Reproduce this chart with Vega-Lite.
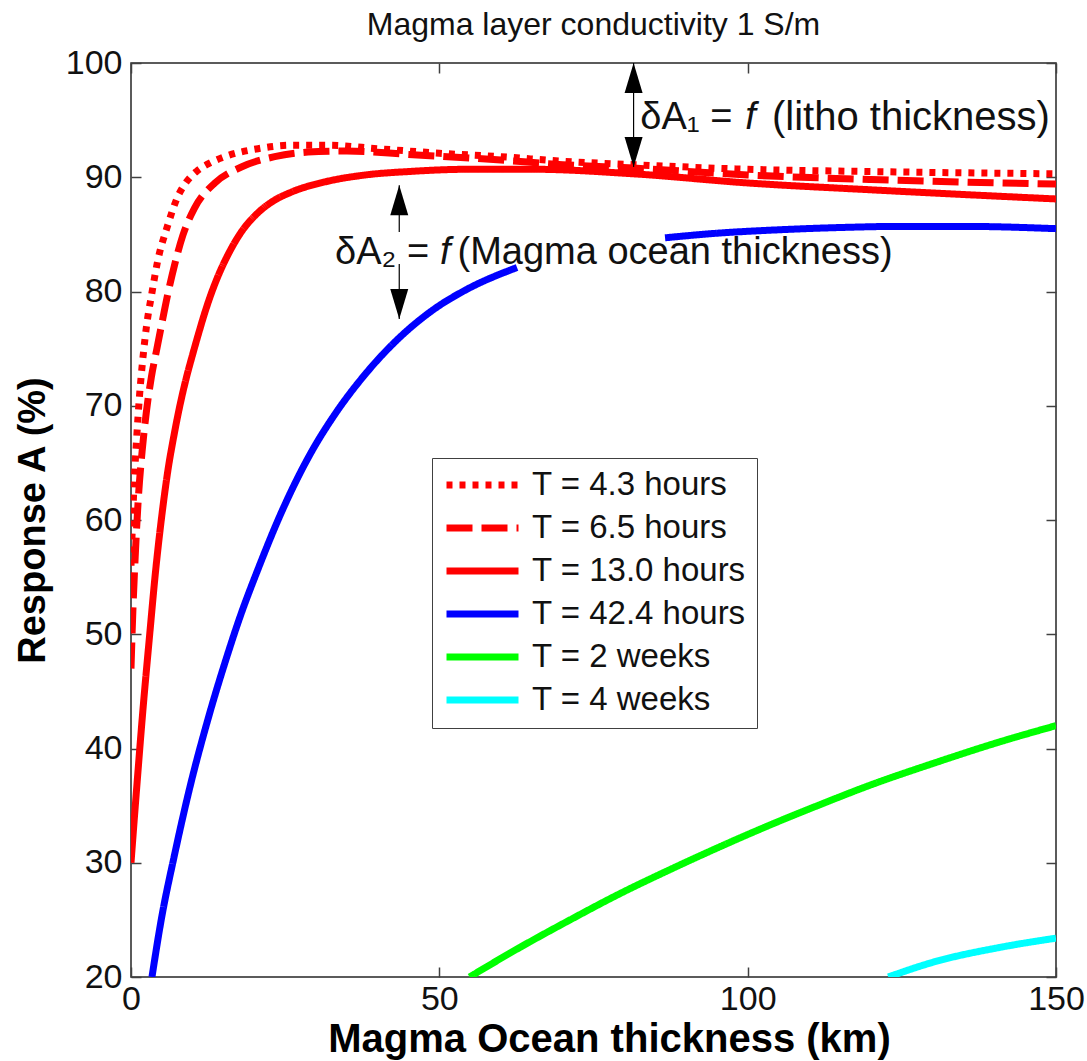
{
  "$schema": "https://vega.github.io/schema/vega-lite/v6.json",
  "width": 925,
  "height": 914,
  "autosize": {"type": "none"},
  "padding": {"left": 131, "top": 63, "right": 31, "bottom": 84},
  "background": "white",
  "title": {"text": "Magma layer conductivity 1 S/m", "fontSize": 32, "fontWeight": "normal", "color": "#111", "anchor": "middle", "frame": "group", "offset": 4},
  "config": {
    "font": "Liberation Sans",
    "view": {"stroke": "#262626", "strokeWidth": 1.5},
    "axis": {"grid": false, "domain": false, "tickColor": "#404040", "tickSize": -10, "tickWidth": 1.5, "labelFontSize": 34, "labelColor": "#111", "titleFontSize": 38, "titleFontWeight": "bold", "titleColor": "#000", "labelFlush": false, "labelOverlap": false},
    "legend": {"orient": "none", "legendX": 301, "legendY": 395, "strokeColor": "#404040", "fillColor": "white", "padding": 11, "labelFontSize": 33, "labelColor": "#111", "symbolType": "stroke", "symbolSize": 5184, "symbolStrokeWidth": 7, "clipHeight": 32, "rowPadding": 10, "labelOffset": 10, "labelLimit": 400}
  },
  "resolve": {"axis": {"x": "independent", "y": "independent"}},
  "layer": [
    {
      "data": {"values": [
        {"series": "T = 4.3 hours", "seg": 1, "x": 0, "y": 56},
        {"series": "T = 4.3 hours", "seg": 1, "x": 0.4, "y": 62},
        {"series": "T = 4.3 hours", "seg": 1, "x": 0.9, "y": 67},
        {"series": "T = 4.3 hours", "seg": 1, "x": 1.4, "y": 71},
        {"series": "T = 4.3 hours", "seg": 1, "x": 1.9, "y": 74},
        {"series": "T = 4.3 hours", "seg": 1, "x": 2.5, "y": 76.9},
        {"series": "T = 4.3 hours", "seg": 1, "x": 3.4, "y": 79.9},
        {"series": "T = 4.3 hours", "seg": 1, "x": 4.3, "y": 82.6},
        {"series": "T = 4.3 hours", "seg": 1, "x": 5.9, "y": 85.7},
        {"series": "T = 4.3 hours", "seg": 1, "x": 7.5, "y": 88.2},
        {"series": "T = 4.3 hours", "seg": 1, "x": 9, "y": 89.6},
        {"series": "T = 4.3 hours", "seg": 1, "x": 10.6, "y": 90.5},
        {"series": "T = 4.3 hours", "seg": 1, "x": 13, "y": 91.3},
        {"series": "T = 4.3 hours", "seg": 1, "x": 15.2, "y": 91.8},
        {"series": "T = 4.3 hours", "seg": 1, "x": 20.6, "y": 92.5},
        {"series": "T = 4.3 hours", "seg": 1, "x": 26, "y": 92.8},
        {"series": "T = 4.3 hours", "seg": 1, "x": 32, "y": 92.8},
        {"series": "T = 4.3 hours", "seg": 1, "x": 40, "y": 92.5},
        {"series": "T = 4.3 hours", "seg": 1, "x": 50, "y": 92.1},
        {"series": "T = 4.3 hours", "seg": 1, "x": 60, "y": 91.8},
        {"series": "T = 4.3 hours", "seg": 1, "x": 70, "y": 91.4},
        {"series": "T = 4.3 hours", "seg": 1, "x": 81.5, "y": 91.1},
        {"series": "T = 4.3 hours", "seg": 1, "x": 100, "y": 90.7},
        {"series": "T = 4.3 hours", "seg": 1, "x": 120, "y": 90.5},
        {"series": "T = 4.3 hours", "seg": 1, "x": 150, "y": 90.3},
        {"series": "T = 6.5 hours", "seg": 1, "x": 0, "y": 47},
        {"series": "T = 6.5 hours", "seg": 1, "x": 0.3, "y": 52},
        {"series": "T = 6.5 hours", "seg": 1, "x": 0.7, "y": 57},
        {"series": "T = 6.5 hours", "seg": 1, "x": 1.2, "y": 62},
        {"series": "T = 6.5 hours", "seg": 1, "x": 1.8, "y": 66},
        {"series": "T = 6.5 hours", "seg": 1, "x": 2.5, "y": 69.5},
        {"series": "T = 6.5 hours", "seg": 1, "x": 3.3, "y": 72.5},
        {"series": "T = 6.5 hours", "seg": 1, "x": 4.2, "y": 75},
        {"series": "T = 6.5 hours", "seg": 1, "x": 5, "y": 77.2},
        {"series": "T = 6.5 hours", "seg": 1, "x": 5.9, "y": 79.6},
        {"series": "T = 6.5 hours", "seg": 1, "x": 7.1, "y": 82.4},
        {"series": "T = 6.5 hours", "seg": 1, "x": 8.4, "y": 84.9},
        {"series": "T = 6.5 hours", "seg": 1, "x": 10.3, "y": 87.3},
        {"series": "T = 6.5 hours", "seg": 1, "x": 13.6, "y": 89.5},
        {"series": "T = 6.5 hours", "seg": 1, "x": 17.9, "y": 90.9},
        {"series": "T = 6.5 hours", "seg": 1, "x": 23.3, "y": 91.8},
        {"series": "T = 6.5 hours", "seg": 1, "x": 28.7, "y": 92.2},
        {"series": "T = 6.5 hours", "seg": 1, "x": 35, "y": 92.3},
        {"series": "T = 6.5 hours", "seg": 1, "x": 45, "y": 92.0},
        {"series": "T = 6.5 hours", "seg": 1, "x": 60, "y": 91.5},
        {"series": "T = 6.5 hours", "seg": 1, "x": 70, "y": 91.1},
        {"series": "T = 6.5 hours", "seg": 1, "x": 81.5, "y": 90.8},
        {"series": "T = 6.5 hours", "seg": 1, "x": 100, "y": 90.2},
        {"series": "T = 6.5 hours", "seg": 1, "x": 120, "y": 89.8},
        {"series": "T = 6.5 hours", "seg": 1, "x": 150, "y": 89.4},
        {"series": "T = 13.0 hours", "seg": 1, "x": 0, "y": 30},
        {"series": "T = 13.0 hours", "seg": 1, "x": 0.5, "y": 33.6},
        {"series": "T = 13.0 hours", "seg": 1, "x": 1, "y": 37.1},
        {"series": "T = 13.0 hours", "seg": 1, "x": 2, "y": 43.8},
        {"series": "T = 13.0 hours", "seg": 1, "x": 3, "y": 49.8},
        {"series": "T = 13.0 hours", "seg": 1, "x": 4, "y": 55.6},
        {"series": "T = 13.0 hours", "seg": 1, "x": 5, "y": 60.4},
        {"series": "T = 13.0 hours", "seg": 1, "x": 6, "y": 64.4},
        {"series": "T = 13.0 hours", "seg": 1, "x": 7, "y": 67.5},
        {"series": "T = 13.0 hours", "seg": 1, "x": 8, "y": 70.2},
        {"series": "T = 13.0 hours", "seg": 1, "x": 9, "y": 72.5},
        {"series": "T = 13.0 hours", "seg": 1, "x": 10, "y": 74.5},
        {"series": "T = 13.0 hours", "seg": 1, "x": 11, "y": 76.4},
        {"series": "T = 13.0 hours", "seg": 1, "x": 12, "y": 78.2},
        {"series": "T = 13.0 hours", "seg": 1, "x": 13, "y": 79.8},
        {"series": "T = 13.0 hours", "seg": 1, "x": 14, "y": 81.2},
        {"series": "T = 13.0 hours", "seg": 1, "x": 16, "y": 83.5},
        {"series": "T = 13.0 hours", "seg": 1, "x": 18, "y": 85.3},
        {"series": "T = 13.0 hours", "seg": 1, "x": 20.6, "y": 86.9},
        {"series": "T = 13.0 hours", "seg": 1, "x": 23, "y": 87.9},
        {"series": "T = 13.0 hours", "seg": 1, "x": 26, "y": 88.7},
        {"series": "T = 13.0 hours", "seg": 1, "x": 31.5, "y": 89.6},
        {"series": "T = 13.0 hours", "seg": 1, "x": 38, "y": 90.2},
        {"series": "T = 13.0 hours", "seg": 1, "x": 45, "y": 90.5},
        {"series": "T = 13.0 hours", "seg": 1, "x": 55, "y": 90.7},
        {"series": "T = 13.0 hours", "seg": 1, "x": 65, "y": 90.7},
        {"series": "T = 13.0 hours", "seg": 1, "x": 81.5, "y": 90.3},
        {"series": "T = 13.0 hours", "seg": 1, "x": 100, "y": 89.5},
        {"series": "T = 13.0 hours", "seg": 1, "x": 120, "y": 88.9},
        {"series": "T = 13.0 hours", "seg": 1, "x": 150, "y": 88.1},
        {"series": "T = 42.4 hours", "seg": 1, "x": 3.4, "y": 20},
        {"series": "T = 42.4 hours", "seg": 1, "x": 4.9, "y": 25},
        {"series": "T = 42.4 hours", "seg": 1, "x": 7.1, "y": 30.8},
        {"series": "T = 42.4 hours", "seg": 1, "x": 9.5, "y": 36.5},
        {"series": "T = 42.4 hours", "seg": 1, "x": 12.5, "y": 42.6},
        {"series": "T = 42.4 hours", "seg": 1, "x": 15.7, "y": 48.3},
        {"series": "T = 42.4 hours", "seg": 1, "x": 17.6, "y": 51.4},
        {"series": "T = 42.4 hours", "seg": 1, "x": 20.6, "y": 55.7},
        {"series": "T = 42.4 hours", "seg": 1, "x": 24.5, "y": 60.8},
        {"series": "T = 42.4 hours", "seg": 1, "x": 29.3, "y": 66},
        {"series": "T = 42.4 hours", "seg": 1, "x": 33, "y": 69.2},
        {"series": "T = 42.4 hours", "seg": 1, "x": 38.2, "y": 72.9},
        {"series": "T = 42.4 hours", "seg": 1, "x": 43.6, "y": 76.0},
        {"series": "T = 42.4 hours", "seg": 1, "x": 49, "y": 78.4},
        {"series": "T = 42.4 hours", "seg": 1, "x": 54.5, "y": 80.2},
        {"series": "T = 42.4 hours", "seg": 1, "x": 62.6, "y": 82.1},
        {"series": "T = 42.4 hours", "seg": 2, "x": 86.6, "y": 84.7},
        {"series": "T = 42.4 hours", "seg": 2, "x": 95, "y": 85.1},
        {"series": "T = 42.4 hours", "seg": 2, "x": 105, "y": 85.4},
        {"series": "T = 42.4 hours", "seg": 2, "x": 115, "y": 85.6},
        {"series": "T = 42.4 hours", "seg": 2, "x": 125, "y": 85.7},
        {"series": "T = 42.4 hours", "seg": 2, "x": 135, "y": 85.7},
        {"series": "T = 42.4 hours", "seg": 2, "x": 150, "y": 85.5},
        {"series": "T = 2 weeks", "seg": 1, "x": 54.9, "y": 20},
        {"series": "T = 2 weeks", "seg": 1, "x": 63.1, "y": 22.6},
        {"series": "T = 2 weeks", "seg": 1, "x": 71.2, "y": 25.0},
        {"series": "T = 2 weeks", "seg": 1, "x": 79.3, "y": 27.3},
        {"series": "T = 2 weeks", "seg": 1, "x": 87.4, "y": 29.4},
        {"series": "T = 2 weeks", "seg": 1, "x": 95.5, "y": 31.4},
        {"series": "T = 2 weeks", "seg": 1, "x": 103.6, "y": 33.3},
        {"series": "T = 2 weeks", "seg": 1, "x": 111.8, "y": 35.1},
        {"series": "T = 2 weeks", "seg": 1, "x": 119.9, "y": 36.8},
        {"series": "T = 2 weeks", "seg": 1, "x": 130.1, "y": 38.7},
        {"series": "T = 2 weeks", "seg": 1, "x": 141, "y": 40.6},
        {"series": "T = 2 weeks", "seg": 1, "x": 150, "y": 42.0},
        {"series": "T = 4 weeks", "seg": 1, "x": 122.8, "y": 20},
        {"series": "T = 4 weeks", "seg": 1, "x": 130.1, "y": 21.3},
        {"series": "T = 4 weeks", "seg": 1, "x": 141, "y": 22.6},
        {"series": "T = 4 weeks", "seg": 1, "x": 150, "y": 23.4}
      ]},
      "mark": {"type": "line", "strokeWidth": 7, "interpolate": "monotone", "clip": true},
      "encoding": {
        "x": {"field": "x", "type": "quantitative", "scale": {"domain": [0, 150], "nice": false, "zero": false},
              "axis": {"orient": "bottom", "values": [0, 50, 100, 150], "title": "Magma Ocean thickness (km)", "titleFontSize": 40, "titleX": 478, "labelPadding": 15, "titlePadding": 3}},
        "y": {"field": "y", "type": "quantitative", "scale": {"domain": [20, 100], "nice": false, "zero": false},
              "axis": {"orient": "left", "values": [20, 30, 40, 50, 60, 70, 80, 90, 100], "title": "Response A (%)", "labelPadding": 19, "titlePadding": 13}},
        "color": {"field": "series", "type": "nominal",
                  "scale": {"domain": ["T = 4.3 hours", "T = 6.5 hours", "T = 13.0 hours", "T = 42.4 hours", "T = 2 weeks", "T = 4 weeks"],
                            "range": ["#ff0000", "#ff0000", "#ff0000", "#0000ff", "#00ff00", "#00ffff"]},
                  "legend": {"title": null}},
        "strokeDash": {"field": "series", "type": "nominal",
                  "scale": {"domain": ["T = 4.3 hours", "T = 6.5 hours", "T = 13.0 hours", "T = 42.4 hours", "T = 2 weeks", "T = 4 weeks"],
                            "range": [[6, 7], [26, 9], [1, 0], [1, 0], [1, 0], [1, 0]]},
                  "legend": {"title": null}},
        "detail": {"field": "seg", "type": "nominal"}
      }
    },
    {
      "data": {"values": [
        {"x": 81.5, "y": 100, "y2": 90.9},
        {"x": 43.5, "y": 89.3, "y2": 85.2},
        {"x": 43.5, "y": 82.4, "y2": 77.6}
      ]},
      "mark": {"type": "rule", "color": "black", "strokeWidth": 1.2},
      "encoding": {
        "x": {"field": "x", "type": "quantitative", "axis": {"orient": "top", "values": [0, 50, 100, 150], "labels": false, "title": null}},
        "y": {"field": "y", "type": "quantitative", "axis": {"orient": "right", "values": [20, 30, 40, 50, 60, 70, 80, 90, 100], "labels": false, "title": null}},
        "y2": {"field": "y2"}
      }
    },
    {
      "data": {"values": [
        {"x": 81.5, "y": 100, "dir": "up"},
        {"x": 81.5, "y": 90.9, "dir": "down"},
        {"x": 43.5, "y": 89.3, "dir": "up"},
        {"x": 43.5, "y": 77.6, "dir": "down"}
      ]},
      "mark": {"type": "point", "filled": true, "color": "black", "opacity": 1, "size": 3600, "strokeWidth": 0},
      "encoding": {
        "x": {"field": "x", "type": "quantitative", "axis": null},
        "y": {"field": "y", "type": "quantitative", "axis": null},
        "shape": {"field": "dir", "type": "nominal", "scale": {"domain": ["up", "down"], "range": ["M0,0L0.3,1L-0.3,1Z", "M0,0L0.3,-1L-0.3,-1Z"]}, "legend": null}
      }
    },
    {
      "data": {"values": [
        {"x": 82.6, "y": 95.2, "t": "δA₁ ="},
        {"x": 33.1, "y": 83.4, "t": "δA₂ ="}
      ]},
      "mark": {"type": "text", "align": "left", "baseline": "middle", "fontSize": 38, "color": "#111"},
      "encoding": {
        "x": {"field": "x", "type": "quantitative", "axis": null},
        "y": {"field": "y", "type": "quantitative", "axis": null},
        "text": {"field": "t"}
      }
    },
    {
      "data": {"values": [
        {"x": 99.6, "y": 95.2, "t": "f"},
        {"x": 50.1, "y": 83.4, "t": "f"}
      ]},
      "mark": {"type": "text", "align": "left", "baseline": "middle", "fontSize": 38, "fontStyle": "italic", "color": "#111"},
      "encoding": {
        "x": {"field": "x", "type": "quantitative", "axis": null},
        "y": {"field": "y", "type": "quantitative", "axis": null},
        "text": {"field": "t"}
      }
    },
    {
      "data": {"values": [
        {"x": 149.0, "y": 95.2, "t": "(litho thickness)"}
      ]},
      "mark": {"type": "text", "align": "right", "baseline": "middle", "fontSize": 40, "color": "#111"},
      "encoding": {
        "x": {"field": "x", "type": "quantitative", "axis": null},
        "y": {"field": "y", "type": "quantitative", "axis": null},
        "text": {"field": "t"}
      }
    },
    {
      "data": {"values": [
        {"x": 123.5, "y": 83.4, "t": "(Magma ocean thickness)"}
      ]},
      "mark": {"type": "text", "align": "right", "baseline": "middle", "fontSize": 38, "color": "#111"},
      "encoding": {
        "x": {"field": "x", "type": "quantitative", "axis": null},
        "y": {"field": "y", "type": "quantitative", "axis": null},
        "text": {"field": "t"}
      }
    }
  ]
}
